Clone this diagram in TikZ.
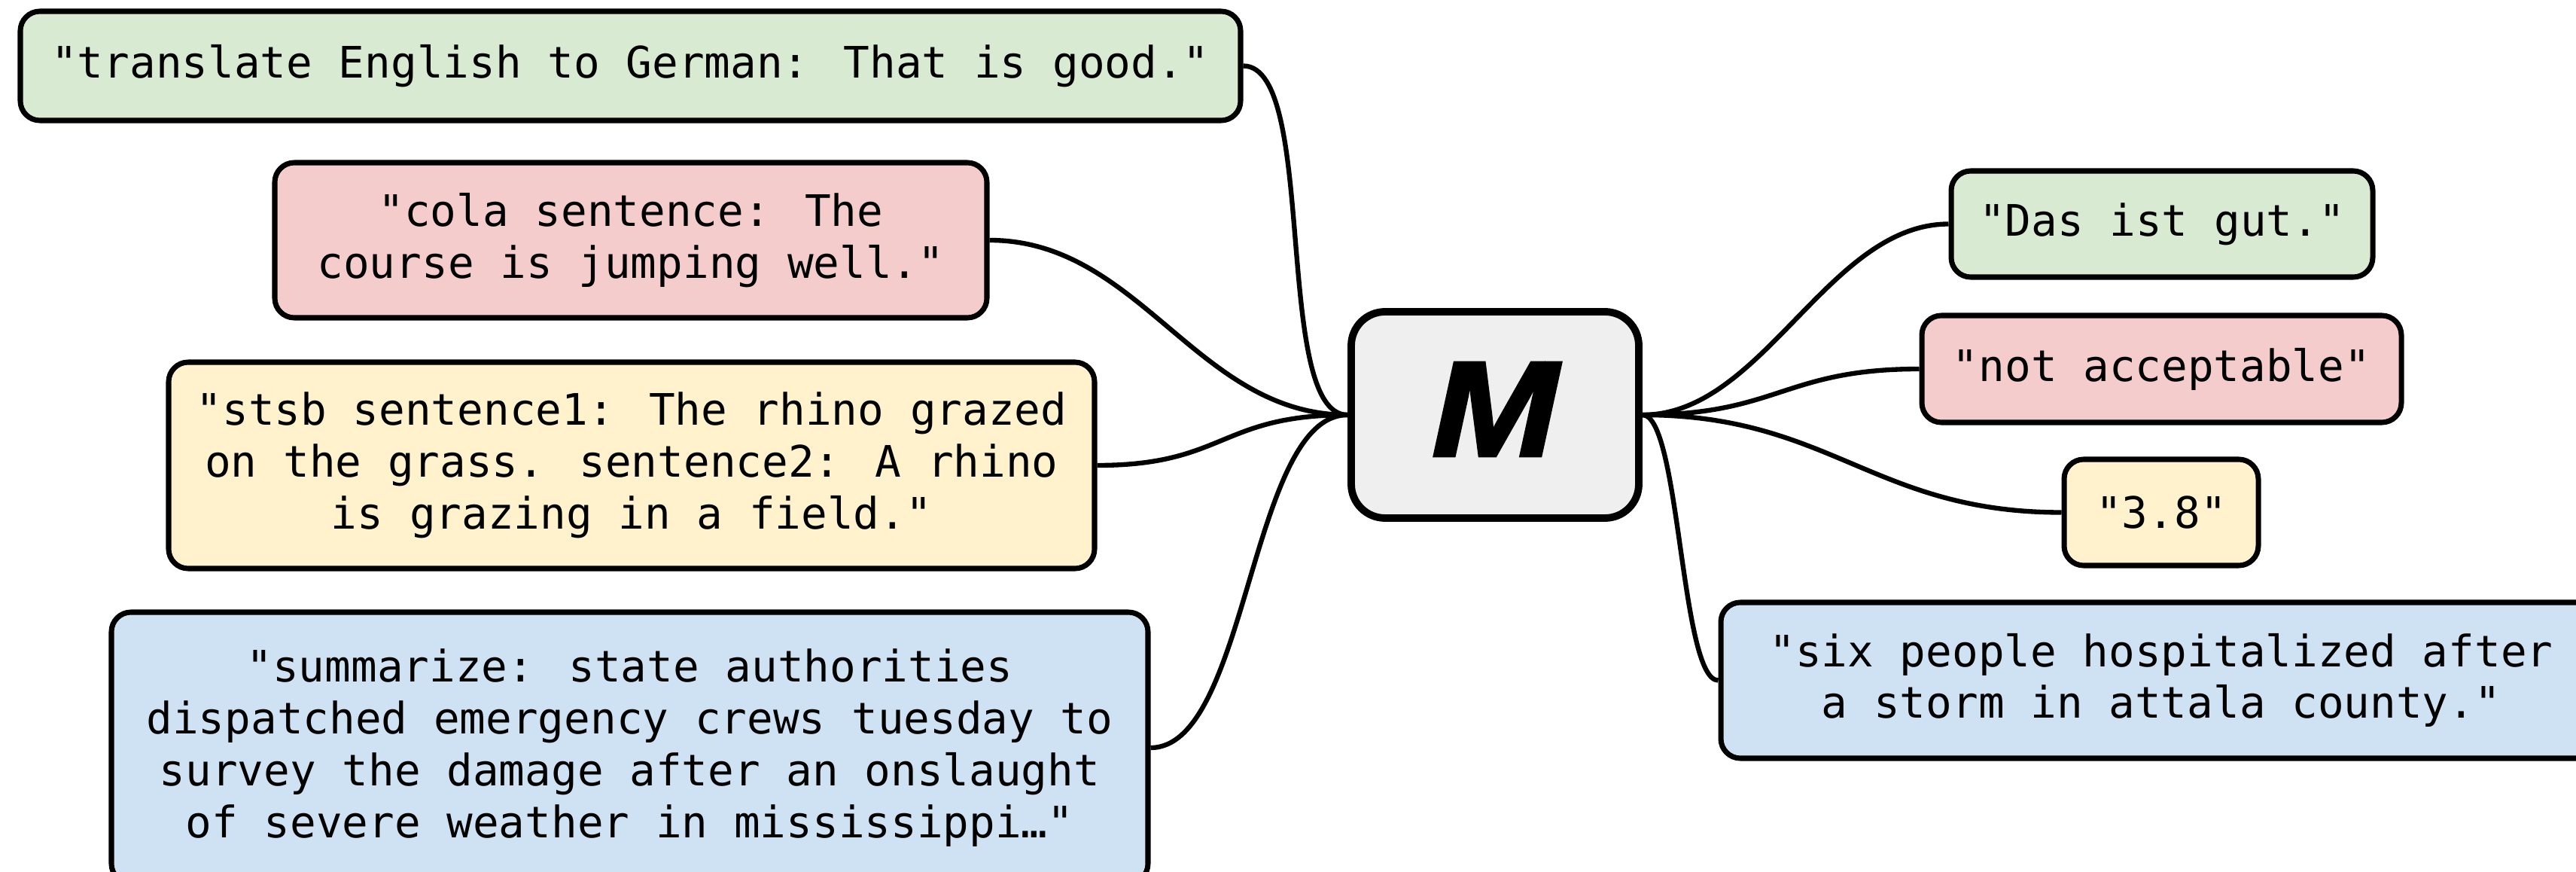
\documentclass[tikz,border=0pt]{standalone}
\usepackage{fontspec}
\newfontfamily\monof{DejaVu Sans Mono}
\newfontfamily\mfont{Liberation Sans}[FakeStretch=1.12, FakeBold=2.5]
\definecolor{cgreen}{HTML}{D9EAD3}
\definecolor{cred}{HTML}{F4CCCC}
\definecolor{cyellow}{HTML}{FFF2CC}
\definecolor{cblue}{HTML}{CFE2F3}
\definecolor{cgray}{HTML}{EFEFEF}
\begin{document}
\begin{tikzpicture}[
  txtbox/.style={draw=black, line width=2pt, rounded corners=0.26cm, align=center,
    inner sep=0pt, font=\monof\fontsize{16.4pt}{19.6pt}\selectfont},
  modelbox/.style={draw=black, line width=2.8pt, rounded corners=0.45cm, fill=cgray,
    inner sep=0pt, minimum width=3.82cm, minimum height=2.74cm,
    font=\mfont\bfseries\itshape\fontsize{51pt}{51pt}\selectfont},
  conn/.style={draw=black, line width=1.8pt}
]
\clip (0,0) rectangle (34.22,-11.58);
\fill[white] (0,0) rectangle (34.22,-11.58);

% model
\node[modelbox] (M) at (19.86,-5.51) {\raisebox{0.15cm}{M}};

% inputs
\node[txtbox, fill=cgreen, minimum width=16.21cm, minimum height=1.45cm] (inA) at (8.375,-0.875)
  {"translate English to German: That is good."};
\node[txtbox, fill=cred, minimum width=9.46cm, minimum height=2.06cm] (inB) at (8.38,-3.19)
  {"cola sentence: The\\course is jumping well."};
\node[txtbox, fill=cyellow, minimum width=12.30cm, minimum height=2.74cm] (inC) at (8.39,-6.18)
  {"stsb sentence1: The rhino grazed\\on the grass. sentence2: A rhino\\is grazing in a field."};
\node[txtbox, fill=cblue, minimum width=13.77cm, minimum height=3.60cm] (inD) at (8.365,-9.93)
  {"summarize: state authorities\\dispatched emergency crews tuesday to\\survey the damage after an onslaught\\of severe weather in mississippi…"};

% outputs
\node[txtbox, fill=cgreen, minimum width=5.60cm, minimum height=1.41cm] (outA) at (28.72,-2.975)
  {"Das ist gut."};
\node[txtbox, fill=cred, minimum width=6.37cm, minimum height=1.42cm] (outB) at (28.715,-4.90)
  {"not acceptable"};
\node[txtbox, fill=cyellow, minimum width=2.58cm, minimum height=1.41cm] (outC) at (28.71,-6.805)
  {"3.8"};
\node[txtbox, fill=cblue, minimum width=11.70cm, minimum height=2.07cm] (outD) at (28.71,-9.035)
  {"six people hospitalized after\\a storm in attala county."};

% connectors
\draw[conn] (inA.east) .. controls +(1.0,0) and +(-1.0,0) .. (M.west);
\draw[conn] (inB.east) .. controls +(2.0,0) and +(-2.0,0) .. (M.west);
\draw[conn] (inC.east) .. controls +(1.7,0) and +(-1.7,0) .. (M.west);
\draw[conn] (inD.east) .. controls +(1.3,0) and +(-1.3,0) .. (M.west);
\draw[conn] (M.east) .. controls +(1.6,0) and +(-1.6,0) .. (outA.west);
\draw[conn] (M.east) .. controls +(1.8,0) and +(-1.8,0) .. (outB.west);
\draw[conn] (M.east) .. controls +(2.5,0) and +(-2.5,0) .. (outC.west);
\draw[conn] (M.east) .. controls +(0.5,0) and +(-0.5,0) .. (outD.west);
\end{tikzpicture}
\end{document}
